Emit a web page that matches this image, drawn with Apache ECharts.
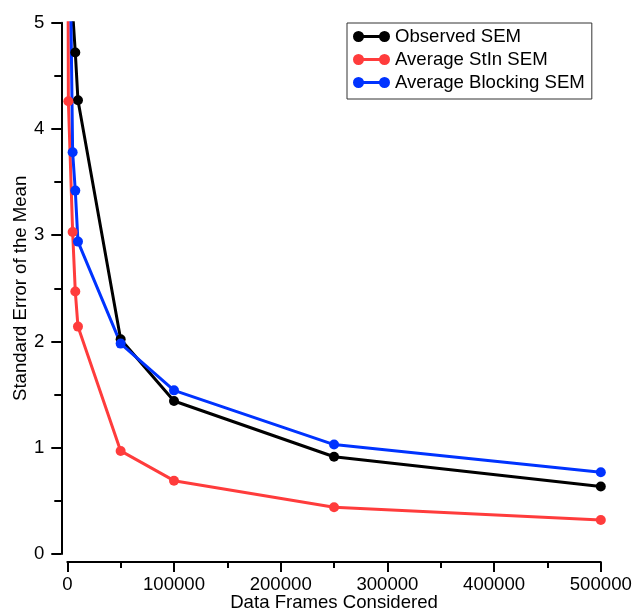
<!DOCTYPE html>
<html>
<head>
<meta charset="utf-8">
<script src="https://cdn.jsdelivr.net/npm/echarts@6/dist/echarts.min.js"></script>
<style>html,body{margin:0;padding:0;background:#fff}#chart{width:632px;height:612px}</style>
</head>
<body>
<div id="chart"></div>
<script>
const xFrames = [500, 1000, 5000, 7500, 10000, 50000, 100000, 250000, 500000];
const observedSEM = [14.0, 8.5, 5.1, 4.72, 4.27, 2.02, 1.44, 0.915, 0.635];
const stinSEM = [6.5, 4.26, 3.03, 2.47, 2.14, 0.97, 0.69, 0.44, 0.32];
const blockingSEM = [10.0, 7.0, 3.78, 3.42, 2.94, 1.98, 1.54, 1.03, 0.77];
const seriesNames = ['Observed SEM', 'Average StIn SEM', 'Average Blocking SEM'];
const xTicks = [0, 100000, 200000, 300000, 400000, 500000];
const yTicks = [0, 1, 2, 3, 4, 5];

const FONT = 'Liberation Sans, Arial, sans-serif';
const FS = 18.6;
const pairs = arr => xFrames.map((x, i) => [x, arr[i]]);
const icon = 'path://M0,5.5A5.5,5.5,0,1,0,11,5.5A5.5,5.5,0,1,0,0,5.5Z M26,5.5A5.5,5.5,0,1,0,37,5.5A5.5,5.5,0,1,0,26,5.5Z M5.5,4L5.5,7L31.5,7L31.5,4Z';

function mk(name, data, color) {
  return {
    name: name, type: 'line', data: pairs(data),
    symbol: 'circle', symbolSize: 10, showSymbol: true,
    lineStyle: { color: color, width: 3 },
    itemStyle: { color: color },
    clip: true, animation: false
  };
}

const chart = echarts.init(document.getElementById('chart'), null, { renderer: 'canvas' });
chart.setOption({
  animation: false,
  backgroundColor: '#ffffff',
  textStyle: { fontFamily: FONT },
  grid: { left: 67.3, right: 31.2, top: 22.7, bottom: 58, containLabel: false, outerBoundsMode: 'none' },
  legend: {
    data: seriesNames.map(n => ({ name: n, icon: icon })),
    orient: 'vertical', left: 347, top: 23,
    itemWidth: 37, itemHeight: 11, itemGap: 4,
    padding: [4, 7, 7, 6],
    borderColor: '#333', borderWidth: 1,
    textStyle: { fontFamily: FONT, fontSize: FS, color: '#000' },
    selectedMode: false
  },
  xAxis: {
    type: 'value', min: xTicks[0], max: xTicks[xTicks.length - 1], interval: 100000,
    offset: 8,
    name: 'Data Frames Considered', nameLocation: 'middle', nameGap: 31, nameMoveOverlap: false,
    nameTextStyle: { fontFamily: FONT, fontSize: FS, color: '#000' },
    axisLine: { show: true, onZero: false, lineStyle: { color: '#000', width: 2 } },
    axisTick: { show: true, inside: false, length: 10, lineStyle: { color: '#000', width: 2 } },
    minorTick: { show: true, splitNumber: 2, length: 6, lineStyle: { color: '#000', width: 2 } },
    axisLabel: { fontFamily: FONT, fontSize: FS, color: '#000', margin: 13, formatter: v => String(v) },
    splitLine: { show: false }
  },
  yAxis: {
    type: 'value', min: yTicks[0], max: yTicks[yTicks.length - 1], interval: 1,
    offset: 6,
    name: 'Standard Error of the Mean', nameLocation: 'middle', nameGap: 31, nameRotate: 90, nameMoveOverlap: false,
    nameTextStyle: { fontFamily: FONT, fontSize: FS, color: '#000' },
    axisLine: { show: true, onZero: false, lineStyle: { color: '#000', width: 2 } },
    axisTick: { show: true, inside: false, length: 10, lineStyle: { color: '#000', width: 2 } },
    minorTick: { show: true, splitNumber: 2, length: 7, lineStyle: { color: '#000', width: 2 } },
    axisLabel: { fontFamily: FONT, fontSize: FS, color: '#000', margin: 17, formatter: v => String(v) },
    splitLine: { show: false }
  },
  series: [
    mk(seriesNames[0], observedSEM, '#000000'),
    mk(seriesNames[1], stinSEM, '#ff3c3c'),
    mk(seriesNames[2], blockingSEM, '#0033ff')
  ]
});
</script>
</body>
</html>
